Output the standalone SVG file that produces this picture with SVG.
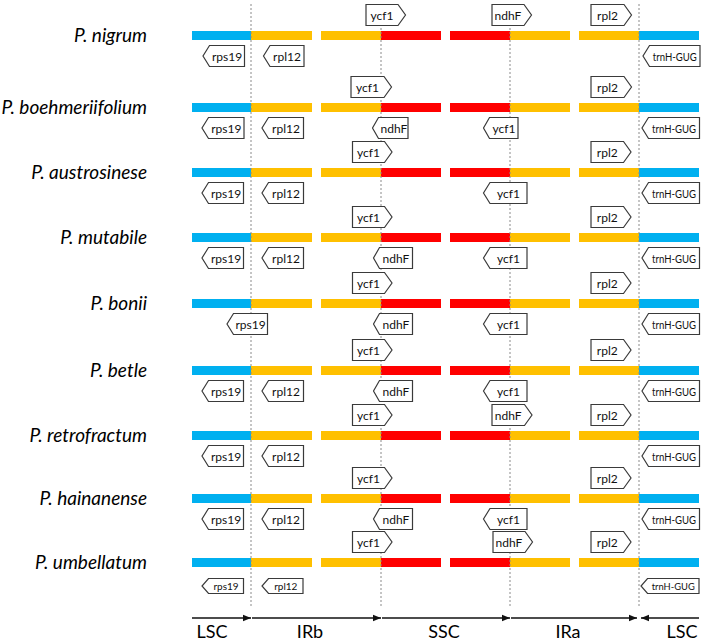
<svg xmlns="http://www.w3.org/2000/svg" width="706" height="642" viewBox="0 0 706 642">
<defs>
<style>
.sp{font-family:Lato,"Liberation Sans",sans-serif;font-style:italic;font-size:19px;fill:#000;text-anchor:end}
.g{fill:#fff;stroke:#3a3a3a;stroke-width:1.2}
.gt{font-family:Lato,"Liberation Sans",sans-serif;font-size:12px;fill:#111;text-anchor:middle}
.gs{font-family:Lato,"Liberation Sans",sans-serif;font-size:10px;fill:#111;text-anchor:middle}
.b{fill:#00B0F0}.o{fill:#FFC000}.r{fill:#FF0000}
.dash{stroke:#8a8a8a;stroke-width:1;stroke-dasharray:2 2;fill:none}
.ax{stroke:#111;stroke-width:1.4;fill:none}
.axt{font-family:Lato,"Liberation Sans",sans-serif;font-size:18px;fill:#000;text-anchor:middle}
</style>
<g id="bar">
<rect class="b" x="192" y="0" width="59" height="9"/>
<rect class="o" x="251" y="0" width="61" height="9"/>
<rect class="o" x="321" y="0" width="60" height="9"/>
<rect class="r" x="381" y="0" width="60" height="9"/>
<rect class="r" x="450" y="0" width="60" height="9"/>
<rect class="o" x="510" y="0" width="60" height="9"/>
<rect class="o" x="579" y="0" width="60" height="9"/>
<rect class="b" x="639" y="0" width="60" height="9"/>
</g>
<marker id="ah" viewBox="0 0 8 8" refX="8" refY="4" markerWidth="8" markerHeight="8" markerUnits="userSpaceOnUse" orient="auto">
<path d="M0,0.8 L8,4 L0,7.2 Z" fill="#111"/>
</marker>
</defs>

<g id="bars">
<use href="#bar" y="31"/>
<use href="#bar" y="103"/>
<use href="#bar" y="168"/>
<use href="#bar" y="233"/>
<use href="#bar" y="299"/>
<use href="#bar" y="366"/>
<use href="#bar" y="431"/>
<use href="#bar" y="494"/>
<use href="#bar" y="558"/>
</g>

<g id="connectors">
<line class="dash" x1="251" y1="4" x2="251" y2="606"/>
<line class="dash" x1="381" y1="4" x2="381" y2="606"/>
<line class="dash" x1="510" y1="4" x2="510" y2="606"/>
<line class="dash" x1="639" y1="4" x2="639" y2="606"/>
<line class="ax" x1="192" y1="618" x2="251" y2="618" marker-end="url(#ah)"/>
<line class="ax" x1="252" y1="618" x2="381" y2="618" marker-end="url(#ah)"/>
<line class="ax" x1="382" y1="618" x2="510" y2="618" marker-end="url(#ah)"/>
<line class="ax" x1="511" y1="618" x2="637" y2="618" marker-end="url(#ah)"/>
<line class="ax" x1="699" y1="618" x2="641" y2="618" marker-end="url(#ah)"/>
</g>

<g id="axis-labels">
<text class="axt" x="212" y="638">LSC</text>
<text class="axt" x="310" y="638">IRb</text>
<text class="axt" x="444" y="638">SSC</text>
<text class="axt" x="568" y="638">IRa</text>
<text class="axt" x="682" y="638">LSC</text>
</g>

<g id="row-nigrum" transform="translate(0,31)">
<text class="sp" x="147" y="11">P. nigrum</text>
<path class="g" d="M366,-26.5 H398 L405.5,-16 L398,-5.5 H366 Z"/><text class="gt" x="382" y="-11.5">ycf1</text>
<path class="g" d="M492,-26.5 H524 L531.5,-16 L524,-5.5 H492 Z"/><text class="gt" x="508" y="-11.5">ndhF</text>
<path class="g" d="M591,-26.5 H624 L631.5,-16 L624,-5.5 H591 Z"/><text class="gt" x="607.5" y="-11.5">rpl2</text>
<path class="g" d="M209.5,14.5 H244.5 V35.5 H209.5 L203,25 Z"/><text class="gt" x="227" y="29.5">rps19</text>
<path class="g" d="M270,14.5 H304 V35.5 H270 L263.5,25 Z"/><text class="gt" x="287" y="29.5">rpl12</text>
<path class="g" d="M649.5,14.5 H700 V35.5 H649.5 L643,25 Z"/><text class="gt" x="674.75" y="29.5" textLength="44" lengthAdjust="spacingAndGlyphs">trnH-GUG</text>
</g>

<g id="row-boehmeriifolium" transform="translate(0,103)">
<text class="sp" x="147" y="11">P. boehmeriifolium</text>
<path class="g" d="M351,-26.5 H384 L391.5,-16 L384,-5.5 H351 Z"/><text class="gt" x="367.5" y="-11.5">ycf1</text>
<path class="g" d="M591,-26.5 H624 L631.5,-16 L624,-5.5 H591 Z"/><text class="gt" x="607.5" y="-11.5">rpl2</text>
<path class="g" d="M208.5,14.5 H244 V35.5 H208.5 L202,25 Z"/><text class="gt" x="226.25" y="29.5">rps19</text>
<path class="g" d="M268.5,14.5 H303.5 V35.5 H268.5 L262,25 Z"/><text class="gt" x="286" y="29.5">rpl12</text>
<path class="g" d="M378.5,14.5 H408 V35.5 H378.5 L372.5,25 Z"/><text class="gt" x="394" y="29.5">ndhF</text>
<path class="g" d="M489.5,14.5 H518 V35.5 H489.5 L483.5,25 Z"/><text class="gt" x="504" y="29.5">ycf1</text>
<path class="g" d="M648.5,14.5 H699.5 V35.5 H648.5 L642,25 Z"/><text class="gt" x="674" y="29.5" textLength="44" lengthAdjust="spacingAndGlyphs">trnH-GUG</text>
</g>

<g id="row-austrosinese" transform="translate(0,168)">
<text class="sp" x="147" y="11">P. austrosinese</text>
<path class="g" d="M352.5,-26.5 H384.5 L392,-16 L384.5,-5.5 H352.5 Z"/><text class="gt" x="368.5" y="-11.5">ycf1</text>
<path class="g" d="M591,-26.5 H623.5 L631,-16 L623.5,-5.5 H591 Z"/><text class="gt" x="607.25" y="-11.5">rpl2</text>
<path class="g" d="M208.5,14.5 H243.5 V35.5 H208.5 L202,25 Z"/><text class="gt" x="226" y="29.5">rps19</text>
<path class="g" d="M268.5,14.5 H303.5 V35.5 H268.5 L262,25 Z"/><text class="gt" x="286" y="29.5">rpl12</text>
<path class="g" d="M490,14.5 H527 V35.5 H490 L483.5,25 Z"/><text class="gt" x="508.5" y="29.5">ycf1</text>
<path class="g" d="M648.5,14.5 H699.5 V35.5 H648.5 L642,25 Z"/><text class="gt" x="674" y="29.5" textLength="44" lengthAdjust="spacingAndGlyphs">trnH-GUG</text>
</g>

<g id="row-mutabile" transform="translate(0,233)">
<text class="sp" x="147" y="11">P. mutabile</text>
<path class="g" d="M352.5,-26.5 H384.5 L392,-16 L384.5,-5.5 H352.5 Z"/><text class="gt" x="368.5" y="-11.5">ycf1</text>
<path class="g" d="M591,-26.5 H623.5 L631,-16 L623.5,-5.5 H591 Z"/><text class="gt" x="607.25" y="-11.5">rpl2</text>
<path class="g" d="M208.5,14.5 H243.5 V35.5 H208.5 L202,25 Z"/><text class="gt" x="226" y="29.5">rps19</text>
<path class="g" d="M268.5,14.5 H303.5 V35.5 H268.5 L262,25 Z"/><text class="gt" x="286" y="29.5">rpl12</text>
<path class="g" d="M379.5,14.5 H412.5 V35.5 H379.5 L373.5,25 Z"/><text class="gt" x="396" y="29.5">ndhF</text>
<path class="g" d="M490,14.5 H527 V35.5 H490 L483.5,25 Z"/><text class="gt" x="508.5" y="29.5">ycf1</text>
<path class="g" d="M648.5,14.5 H699.5 V35.5 H648.5 L642,25 Z"/><text class="gt" x="674" y="29.5" textLength="44" lengthAdjust="spacingAndGlyphs">trnH-GUG</text>
</g>

<g id="row-bonii" transform="translate(0,299)">
<text class="sp" x="147" y="11">P. bonii</text>
<path class="g" d="M352.5,-26.5 H384.5 L392,-16 L384.5,-5.5 H352.5 Z"/><text class="gt" x="368.5" y="-11.5">ycf1</text>
<path class="g" d="M591,-26.5 H623.5 L631,-16 L623.5,-5.5 H591 Z"/><text class="gt" x="607.25" y="-11.5">rpl2</text>
<path class="g" d="M233.5,14.5 H267.5 V35.5 H233.5 L227,25 Z"/><text class="gt" x="250.5" y="29.5">rps19</text>
<path class="g" d="M379.5,14.5 H412.5 V35.5 H379.5 L373.5,25 Z"/><text class="gt" x="396" y="29.5">ndhF</text>
<path class="g" d="M490,14.5 H527 V35.5 H490 L483.5,25 Z"/><text class="gt" x="508.5" y="29.5">ycf1</text>
<path class="g" d="M648.5,14.5 H699.5 V35.5 H648.5 L642,25 Z"/><text class="gt" x="674" y="29.5" textLength="44" lengthAdjust="spacingAndGlyphs">trnH-GUG</text>
</g>

<g id="row-betle" transform="translate(0,366)">
<text class="sp" x="147" y="11">P. betle</text>
<path class="g" d="M352.5,-26.5 H384.5 L392,-16 L384.5,-5.5 H352.5 Z"/><text class="gt" x="368.5" y="-11.5">ycf1</text>
<path class="g" d="M591,-26.5 H623.5 L631,-16 L623.5,-5.5 H591 Z"/><text class="gt" x="607.25" y="-11.5">rpl2</text>
<path class="g" d="M208.5,14.5 H243.5 V35.5 H208.5 L202,25 Z"/><text class="gt" x="226" y="29.5">rps19</text>
<path class="g" d="M268.5,14.5 H303.5 V35.5 H268.5 L262,25 Z"/><text class="gt" x="286" y="29.5">rpl12</text>
<path class="g" d="M379.5,14.5 H412.5 V35.5 H379.5 L373.5,25 Z"/><text class="gt" x="396" y="29.5">ndhF</text>
<path class="g" d="M490,14.5 H527 V35.5 H490 L483.5,25 Z"/><text class="gt" x="508.5" y="29.5">ycf1</text>
<path class="g" d="M648.5,14.5 H699.5 V35.5 H648.5 L642,25 Z"/><text class="gt" x="674" y="29.5" textLength="44" lengthAdjust="spacingAndGlyphs">trnH-GUG</text>
</g>

<g id="row-retrofractum" transform="translate(0,431)">
<text class="sp" x="147" y="11">P. retrofractum</text>
<path class="g" d="M352.5,-26.5 H384.5 L392,-16 L384.5,-5.5 H352.5 Z"/><text class="gt" x="368.5" y="-11.5">ycf1</text>
<path class="g" d="M492,-26.5 H524.5 L532,-16 L524.5,-5.5 H492 Z"/><text class="gt" x="508.25" y="-11.5">ndhF</text>
<path class="g" d="M591,-26.5 H623.5 L631,-16 L623.5,-5.5 H591 Z"/><text class="gt" x="607.25" y="-11.5">rpl2</text>
<path class="g" d="M208.5,14.5 H243.5 V35.5 H208.5 L202,25 Z"/><text class="gt" x="226" y="29.5">rps19</text>
<path class="g" d="M268.5,14.5 H303.5 V35.5 H268.5 L262,25 Z"/><text class="gt" x="286" y="29.5">rpl12</text>
<path class="g" d="M648.5,14.5 H699.5 V35.5 H648.5 L642,25 Z"/><text class="gt" x="674" y="29.5" textLength="44" lengthAdjust="spacingAndGlyphs">trnH-GUG</text>
</g>

<g id="row-hainanense" transform="translate(0,494)">
<text class="sp" x="147" y="11">P. hainanense</text>
<path class="g" d="M352.5,-26.5 H384.5 L392,-16 L384.5,-5.5 H352.5 Z"/><text class="gt" x="368.5" y="-11.5">ycf1</text>
<path class="g" d="M591,-26.5 H623.5 L631,-16 L623.5,-5.5 H591 Z"/><text class="gt" x="607.25" y="-11.5">rpl2</text>
<path class="g" d="M208.5,14.5 H243.5 V35.5 H208.5 L202,25 Z"/><text class="gt" x="226" y="29.5">rps19</text>
<path class="g" d="M268.5,14.5 H303.5 V35.5 H268.5 L262,25 Z"/><text class="gt" x="286" y="29.5">rpl12</text>
<path class="g" d="M379.5,14.5 H412.5 V35.5 H379.5 L373.5,25 Z"/><text class="gt" x="396" y="29.5">ndhF</text>
<path class="g" d="M490,14.5 H527 V35.5 H490 L483.5,25 Z"/><text class="gt" x="508.5" y="29.5">ycf1</text>
<path class="g" d="M648.5,14.5 H699.5 V35.5 H648.5 L642,25 Z"/><text class="gt" x="674" y="29.5" textLength="44" lengthAdjust="spacingAndGlyphs">trnH-GUG</text>
</g>

<g id="row-umbellatum" transform="translate(0,558)">
<text class="sp" x="147" y="11">P. umbellatum</text>
<path class="g" d="M352.5,-26.5 H384.5 L392,-16 L384.5,-5.5 H352.5 Z"/><text class="gt" x="368.5" y="-11.5">ycf1</text>
<path class="g" d="M493,-26.5 H525 L532.5,-16 L525,-5.5 H493 Z"/><text class="gt" x="509" y="-11.5">ndhF</text>
<path class="g" d="M591,-26.5 H623.5 L631,-16 L623.5,-5.5 H591 Z"/><text class="gt" x="607.25" y="-11.5">rpl2</text>
<path class="g" d="M208.5,20.5 H243.5 V35.5 H208.5 L202,28 Z"/><text class="gs" x="226" y="31.5">rps19</text>
<path class="g" d="M268.5,20.5 H303 V35.5 H268.5 L262,28 Z"/><text class="gs" x="285.75" y="31.5">rpl12</text>
<path class="g" d="M647.5,20.5 H699 V35.5 H647.5 L641,28 Z"/><text class="gs" x="673.25" y="31.5" textLength="43" lengthAdjust="spacingAndGlyphs">trnH-GUG</text>
</g>
</svg>
